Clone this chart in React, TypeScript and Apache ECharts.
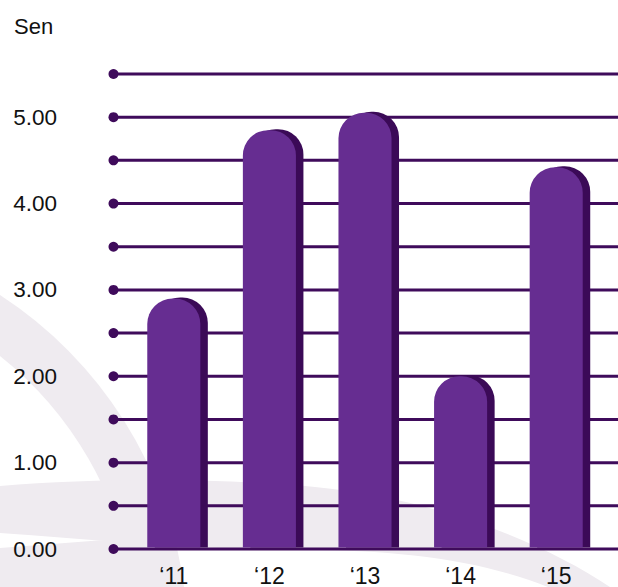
import React, { useEffect, useRef } from "react";
import * as echarts from "echarts";

const categories = ["\u201811", "\u201812", "\u201813", "\u201814", "\u201815"];
const values = [2.9, 4.85, 5.05, 2.0, 4.42];
const gridLevels = [0, 0.5, 1, 1.5, 2, 2.5, 3, 3.5, 4, 4.5, 5, 5.5];
const unitLabel = "Sen";

const BAR = "#662d91";
const SHADOW = "#3b0a57";
const LINE = "#3f0b5b";
const BG = "#efebf0";
const TEXT = "#111111";
const FONT = "'Liberation Sans', Arial, Helvetica, sans-serif";

echarts.graphic.registerShape(
  "bgArcA",
  echarts.graphic.extendPath("M0,295 A412,412 0 0 1 184,587 L133,587 A362,362 0 0 0 0,356 Z", {})
);
echarts.graphic.registerShape(
  "bgArcB",
  echarts.graphic.extendPath(
    "M0,486 C100,478 220,478 315,487 C430,498 540,540 610,587 L548,587 C480,560 400,550 303,550 C200,550 100,540 0,533 Z",
    {}
  )
);
echarts.graphic.registerShape(
  "bgArcC",
  echarts.graphic.extendPath("M0,548 L130,538 L160,587 L0,587 Z", {})
);

export default function App() {
  const ref = useRef<HTMLDivElement>(null);
  useEffect(() => {
    if (!ref.current) return;
    const chart = echarts.init(ref.current, null, { renderer: "svg" });
    chart.setOption({
      animation: false,
      backgroundColor: "#ffffff",
      title: {
        text: unitLabel,
        left: 9,
        top: 10,
        textStyle: { fontSize: 22, fontWeight: "normal", color: TEXT, fontFamily: FONT },
      },
      graphic: [
        { type: "bgArcA", z: -10, silent: true, style: { fill: BG } },
        { type: "bgArcB", z: -10, silent: true, style: { fill: BG } },
        { type: "bgArcC", z: -10, silent: true, style: { fill: BG } },
      ],
      grid: { left: 126, right: 14, top: 74, bottom: 34 },
      xAxis: {
        type: "category",
        data: categories,
        axisLine: { show: false },
        axisTick: { show: false },
        axisLabel: { fontSize: 23, color: TEXT, fontFamily: FONT, margin: 15 },
      },
      yAxis: {
        type: "value",
        min: 0,
        max: 5.5,
        interval: 0.5,
        splitLine: { show: false },
        axisLine: { show: false },
        axisTick: { show: false },
        axisLabel: {
          fontSize: 22.5,
          color: TEXT,
          fontFamily: FONT,
          margin: 69,
          padding: [3, 0, 0, 0],
          formatter: (v: number) => (Math.abs(v - Math.round(v)) < 1e-9 && v <= 5 ? v.toFixed(2) : ""),
        },
      },
      series: [
        {
          type: "custom",
          z: 1,
          silent: true,
          data: gridLevels.map((v) => [0, v]),
          renderItem: (params: any, api: any) => {
            const y = api.coord([0, api.value(1)])[1];
            const w = api.getWidth();
            return {
              type: "group",
              children: [
                {
                  type: "line",
                  shape: { x1: 113.5, y1: y, x2: w, y2: y },
                  style: { stroke: LINE, lineWidth: 3 },
                },
                {
                  type: "circle",
                  shape: { cx: 113.5, cy: y, r: 5 },
                  style: { fill: LINE },
                },
              ],
            };
          },
        },
        {
          type: "custom",
          z: 3,
          silent: true,
          data: values.map((v, i) => [i, v]),
          renderItem: (params: any, api: any) => {
            const idx = api.value(0);
            const val = api.value(1);
            const top = api.coord([idx, val]);
            const base = api.coord([idx, 0]);
            const band = api.size([1, 0])[0];
            const bw = band * 0.555;
            const cx = top[0];
            const bottom = base[1] - 1.5;
            const r = bw * 0.48;
            return {
              type: "group",
              children: [
                {
                  type: "rect",
                  shape: { x: cx - bw / 2 + 7.5, y: top[1] - 1, width: bw, height: bottom - top[1] + 1, r: [r, r, 0, 0] },
                  style: { fill: SHADOW },
                },
                {
                  type: "rect",
                  shape: { x: cx - bw / 2, y: top[1], width: bw, height: bottom - top[1], r: [r, r, 0, 0] },
                  style: { fill: BAR },
                },
              ],
            };
          },
        },
      ],
    });
    return () => chart.dispose();
  }, []);
  return (
    <div
      ref={ref}
      style={{ position: "fixed", left: 0, top: 0, width: 618, height: 587, background: "#fff" }}
    />
  );
}
